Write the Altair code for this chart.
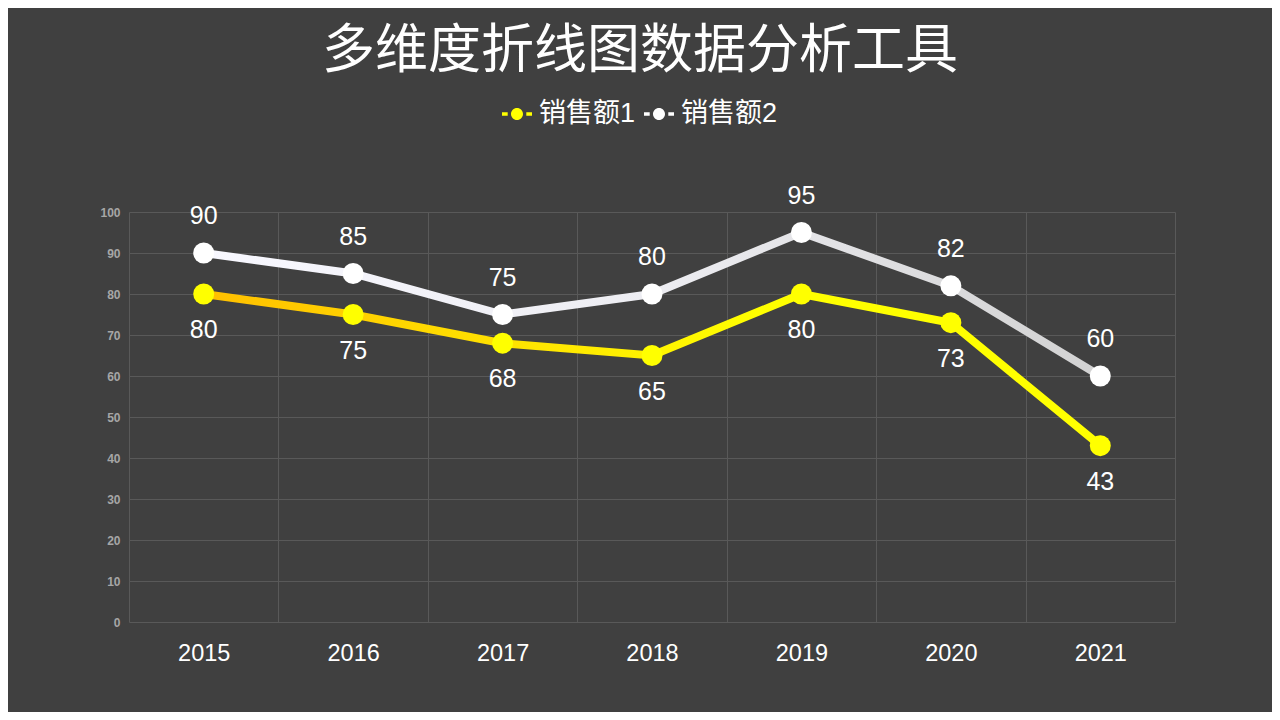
import altair as alt
import pandas as pd

years = ["2015", "2016", "2017", "2018", "2019", "2020", "2021"]
series_names = ["销售额1", "销售额2"]
sales1 = [80, 75, 68, 65, 80, 73, 43]
sales2 = [90, 85, 75, 80, 95, 82, 60]
y_ticks = [0, 10, 20, 30, 40, 50, 60, 70, 80, 90, 100]

rows = []
for y, v in zip(years, sales1):
    rows.append({"year": y, "series": series_names[0], "value": v})
for y, v in zip(years, sales2):
    rows.append({"year": y, "series": series_names[1], "value": v})
df = pd.DataFrame(rows)

GRID = "#595959"
NUM_FONT = "Liberation Sans"
CJK_FONT = "Noto Sans CJK SC"

x_enc = alt.X(
    "year:N",
    sort=years,
    scale=alt.Scale(paddingInner=0, paddingOuter=0),
    axis=alt.Axis(
        title=None, labelAngle=0, tickBand="extent", grid=True, gridColor=GRID,
        gridWidth=1, domain=False, ticks=False, labelColor="#FFFFFF",
        labelFontSize=23.5, labelFont=NUM_FONT, labelPadding=19,
    ),
)
y_enc = alt.Y(
    "value:Q",
    scale=alt.Scale(domain=[0, 100], nice=False, zero=True),
    axis=alt.Axis(
        title=None, values=y_ticks, grid=True, gridColor=GRID, gridWidth=1,
        domain=False, ticks=False, labelColor="#A6A6A6", labelFontSize=12,
        labelFontWeight="bold", labelFont=NUM_FONT, labelPadding=9,
    ),
)

base = alt.Chart(df).encode(x=x_enc, y=y_enc)

grad1 = alt.Gradient(
    gradient="linear", x1=0, x2=1, y1=0, y2=0,
    stops=[alt.GradientStop(color="#FFBF00", offset=0),
           alt.GradientStop(color="#FFFF00", offset=0.62),
           alt.GradientStop(color="#FFFF00", offset=1)],
)
grad2 = alt.Gradient(
    gradient="linear", x1=0, x2=1, y1=0, y2=0,
    stops=[alt.GradientStop(color="#F8F8FF", offset=0),
           alt.GradientStop(color="#EDEDF2", offset=0.5),
           alt.GradientStop(color="#D2D2D2", offset=1)],
)

line1 = base.transform_filter(alt.datum.series == series_names[0]).mark_line(
    stroke=grad1, strokeWidth=8)
line2 = base.transform_filter(alt.datum.series == series_names[1]).mark_line(
    stroke=grad2, strokeWidth=8)

legend_path = ("M-1,-0.11L-0.62,-0.11L-0.62,0.11L-1,0.11Z "
               "M0.62,-0.11L1,-0.11L1,0.11L0.62,0.11Z "
               "M0.4,0A0.4,0.4,0,1,1,-0.4,0A0.4,0.4,0,1,1,0.4,0Z")

points = base.mark_point(filled=True, size=440, opacity=1, strokeWidth=0).encode(
    fill=alt.Fill(
        "series:N",
        scale=alt.Scale(domain=series_names, range=["#FFFF00", "#FFFFFF"]),
        legend=alt.Legend(
            title=None, orient="none", legendX=373, legendY=-113,
            direction="horizontal", symbolType=legend_path, symbolSize=900,
            symbolStrokeWidth=0, labelFontSize=27, labelColor="#FFFFFF",
            labelFont=NUM_FONT + ", " + CJK_FONT, labelOffset=7,
            columnPadding=8, padding=0,
        ),
    )
)

text1 = base.transform_filter(alt.datum.series == series_names[0]).mark_text(
    dy=36, fontSize=25, color="#FFFFFF", font=NUM_FONT).encode(text="value:Q")
text2 = base.transform_filter(alt.datum.series == series_names[1]).mark_text(
    dy=-37, fontSize=25, color="#FFFFFF", font=NUM_FONT).encode(text="value:Q")

chart = alt.layer(line1, line2, points, text1, text2).properties(
    width=1046,
    height=410,
    background="#404040",
    autosize=alt.AutoSizeParams(type="none"),
    padding={"left": 121, "top": 204, "right": 97, "bottom": 90},
    title=alt.Title(
        "多维度折线图数据分析工具", fontSize=53, color="#FFFFFF", font=CJK_FONT,
        fontWeight="normal", anchor="middle", frame="group", dx=-12, offset=20,
    ),
).configure_view(stroke=None)

chart.save("out.html", embed_options={"renderer": "svg", "actions": False})
